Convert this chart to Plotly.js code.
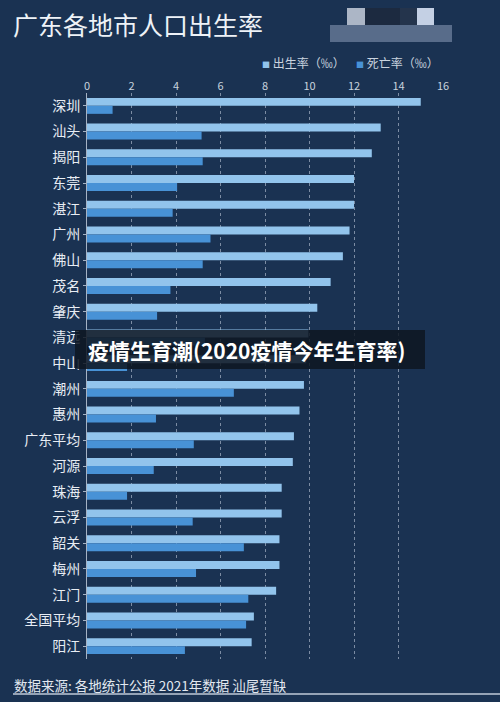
<!DOCTYPE html>
<html>
<head>
<meta charset="utf-8">
<script src="https://cdn.plot.ly/plotly-3.0.1.min.js"></script>
<style>
  html, body { margin: 0; padding: 0; background: #1a3252; }
  #chart { width: 500px; height: 702px; }
</style>
</head>
<body>
<div id="chart"></div>
<script>
"use strict";

// 广东各地市 2021 出生率 / 死亡率 (‰)
let cities = ["深圳", "汕头", "揭阳", "东莞", "湛江", "广州", "佛山", "茂名", "肇庆", "清远", "中山",
    "潮州", "惠州", "广东平均", "河源", "珠海", "云浮", "韶关", "梅州", "江门", "全国平均", "阳江"];
let birthRate = [15.0, 13.2, 12.8, 12.0, 12.0, 11.8, 11.5, 10.95, 10.35, 9.95, 9.85,
    9.75, 9.55, 9.3, 9.25, 8.75, 8.75, 8.65, 8.65, 8.5, 7.5, 7.4];
let deathRate = [1.15, 5.15, 5.2, 4.05, 3.85, 5.55, 5.2, 3.75, 3.15, 5.3, 1.8,
    6.6, 3.1, 4.8, 3.0, 1.8, 4.75, 7.05, 4.9, 7.25, 7.15, 4.4];
let xTicks = [0, 2, 4, 6, 8, 10, 12, 14, 16];
let seriesNames = ["出生率（‰）", "死亡率（‰）"];
let seriesColors = ["rgb(146,196,236)", "rgb(72,146,214)"];

let W = 500, H = 702;
let M = {l: 87, r: 57, t: 93, b: 43};
let FONT = "'Noto Sans CJK SC', 'Noto Sans', sans-serif";

// pixel -> paper coords of the plot area
function px(x) { return (x - M.l) / (W - M.l - M.r); }
function py(y) { return (H - M.b - y) / (H - M.t - M.b); }

function barTrace(values, name, color) {
    return {
        type: "bar",
        orientation: "h",
        y: cities,
        x: values,
        name: name,
        marker: {color: color},
        hoverinfo: "none"
    };
}

let data = [
    barTrace(birthRate, seriesNames[0], seriesColors[0]),
    barTrace(deathRate, seriesNames[1], seriesColors[1])
];

function block(x0, y0, x1, y1, color) {
    return {type: "rect", xref: "paper", yref: "paper", layer: "above",
        x0: px(x0), x1: px(x1), y0: py(y1), y1: py(y0), fillcolor: color, line: {width: 0}};
}

// small legend drawn by hand: tiny square + name
function legendItem(i, x) {
    return {
        text: "<span style=\"color:" + seriesColors[i] + ";font-size:8px\">■</span> " + seriesNames[i],
        xref: "paper", yref: "paper", x: px(x), y: py(62),
        xanchor: "left", yanchor: "middle", showarrow: false,
        font: {size: 12, color: "#c9d3df", family: FONT}
    };
}

let layout = {
    width: W,
    height: H,
    margin: M,
    paper_bgcolor: "#1a3252",
    plot_bgcolor: "rgba(0,0,0,0)",
    font: {family: FONT, color: "#e6ecf3"},
    title: {
        text: "广东各地市人口出生率",
        x: 13 / W, xref: "container", xanchor: "left",
        y: 1 - 26 / H, yref: "container", yanchor: "middle",
        font: {size: 25, color: "#eef2f7", family: FONT}
    },
    barmode: "group",
    bargap: 0.38,
    bargroupgap: 0,
    showlegend: false,
    xaxis: {
        side: "top",
        range: [0, 16],
        tickvals: xTicks,
        tickfont: {size: 11, color: "#c8d2de"},
        showgrid: true,
        gridcolor: "rgba(205,215,230,0.55)",
        griddash: "dot",
        gridwidth: 1,
        zeroline: false,
        ticks: "",
        fixedrange: true
    },
    yaxis: {
        autorange: "reversed",
        tickfont: {size: 14, color: "#e8edf4"},
        showline: true,
        linecolor: "rgba(200,210,225,0.8)",
        linewidth: 1,
        ticks: "outside",
        ticklen: 3,
        tickcolor: "rgba(200,210,225,0.8)",
        showgrid: false,
        fixedrange: true
    },
    shapes: [
        // pixelated blocks, top right
        block(330, 25, 452, 42, "rgb(88,108,138)"),
        block(347, 8, 365, 25, "rgb(172,182,198)"),
        block(365, 8, 400, 25, "rgb(28,42,64)"),
        block(400, 8, 417, 25, "rgb(36,52,76)"),
        block(417, 8, 434, 25, "rgb(196,208,228)"),
        // overlay banner
        block(75, 330, 425, 369, "rgba(14,22,34,0.86)"),
        // source underline
        {type: "line", xref: "paper", yref: "paper", x0: px(13), x1: px(500),
            y0: py(694), y1: py(694), line: {color: "rgba(220,228,238,0.85)", width: 1.5}}
    ],
    annotations: [
        legendItem(0, 260),
        legendItem(1, 354),
        {
            text: "<b>疫情生育潮(2020疫情今年生育率)</b>",
            xref: "paper", yref: "paper", x: px(86), y: py(350),
            xanchor: "left", yanchor: "middle", showarrow: false,
            font: {size: 21, color: "#ffffff", family: FONT}
        },
        {
            text: "数据来源: 各地统计公报 2021年数据 汕尾暂缺",
            xref: "paper", yref: "paper", x: px(12), y: py(685),
            xanchor: "left", yanchor: "middle", showarrow: false,
            font: {size: 13.5, color: "#e2e8f0", family: FONT}
        }
    ]
};

Plotly.newPlot("chart", data, layout, {displayModeBar: false, staticPlot: true});
</script>
</body>
</html>
